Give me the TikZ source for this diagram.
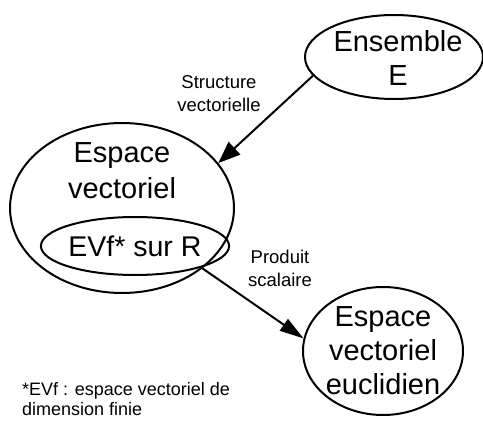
\documentclass[tikz,border=0pt]{standalone}
\usepackage{fontspec}
\setmainfont{Liberation Sans}
\usetikzlibrary{shapes.geometric,arrows.meta}
\begin{document}
\begin{tikzpicture}[x=1pt,y=-1pt,
  ell/.style={draw,ellipse,line width=2pt,inner sep=0pt},
  bigtxt/.style={align=center,inner sep=0pt,font=\fontsize{29}{36}\selectfont},
  smalltxt/.style={align=center,inner sep=0pt,font=\fontsize{18.5}{23}\selectfont},
  arr/.style={line width=2pt}]
\useasboundingbox (0,0) rectangle (483,423);
\node[ell,minimum width=178pt,minimum height=84pt] (ens) at (394,57) {};
\node[bigtxt,font=\fontsize{29}{34}\selectfont] (enst) at (398,58) {Ensemble\\E};
\node[ell,minimum width=224pt,minimum height=170pt] (ev) at (122,208) {};
\node[bigtxt] (evt) at (122,171) {Espace\\vectoriel};
\node[ell,minimum width=152pt,minimum height=58pt,font=\fontsize{28.5}{34}\selectfont] (evf) at (135,246) {EVf* sur R};
\node[ell,minimum width=160pt,minimum height=128pt] (eve) at (383,351) {};
\node[bigtxt,font=\fontsize{29}{34}\selectfont] (evet) at (383,351) {Espace\\vectoriel\\euclidien};
\draw[arr,-{Triangle[length=22pt,width=17pt]}] (ens.193) -- (ev.25);
\draw[arr,-{Triangle[length=24pt,width=14pt]}] (evf.342) -- (eve.171);
\node[smalltxt] (l1) at (219,94) {Structure\\vectorielle};
\node[smalltxt] (l2) at (280,268) {Produit\\scalaire};
\node[smalltxt,align=left,anchor=north west,font=\fontsize{18}{20}\selectfont] (fn) at (22,382) {*EVf : espace vectoriel de\\dimension finie};
\end{tikzpicture}
\end{document}
